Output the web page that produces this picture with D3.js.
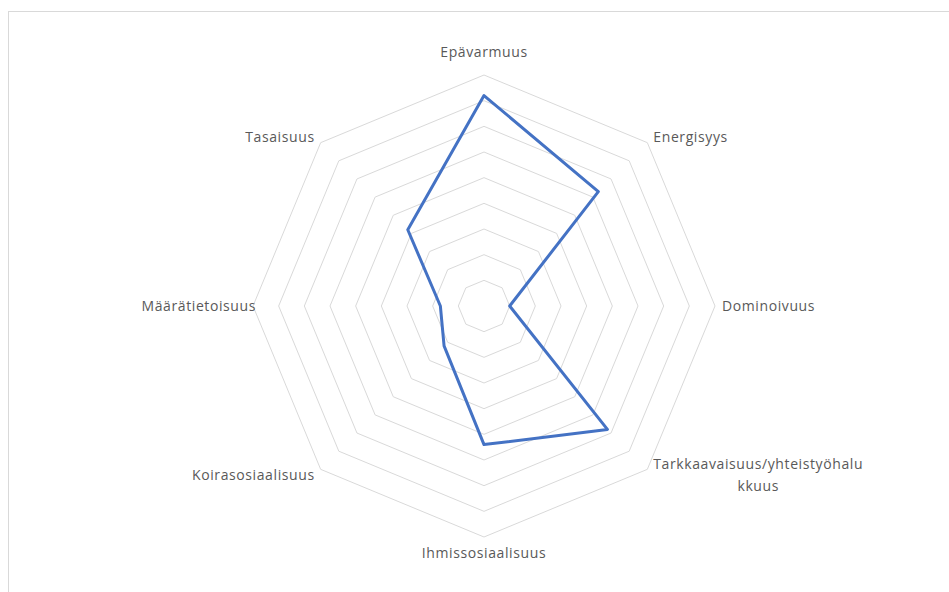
<!DOCTYPE html>
<html>
<head>
<meta charset="utf-8">
<script src="https://cdn.jsdelivr.net/npm/d3@7"></script>
<style>
  html, body { margin: 0; padding: 0; background: #ffffff; }
  svg { display: block; }
</style>
</head>
<body>
<svg id="chart" width="949" height="592"></svg>
<script>
const categories = ["Epävarmuus", "Energisyys", "Dominoivuus", "Tarkkaavaisuus/yhteistyöhalukkuus",
                    "Ihmissosiaalisuus", "Koirasosiaalisuus", "Määrätietoisuus", "Tasaisuus"];
const values = [8.2, 6.3, 1.0, 6.8, 5.4, 2.2, 1.7, 4.2];
const ringTicks = [1, 2, 3, 4, 5, 6, 7, 8, 9];
const axisMax = 9;

const svg = d3.select("#chart");
const cx = 484, cy = 306, R = 231;

// frame
svg.append("rect").attr("x", 8.5).attr("y", 11.5).attr("width", 1000).attr("height", 700)
  .attr("fill", "none").attr("stroke", "#d9d9d9").attr("stroke-width", 1);

const g = svg.append("g").attr("transform", `translate(${cx},${cy})`);

const angle = d3.scalePoint().domain(categories).range([0, 2 * Math.PI * (categories.length - 1) / categories.length]);
const r = d3.scaleLinear().domain([0, axisMax]).range([0, R]);

const pt = (cat, v) => {
  const a = angle(cat);
  return [Math.sin(a) * r(v), -Math.cos(a) * r(v)];
};

// grid rings
const ringLine = d3.line().curve(d3.curveLinearClosed);
g.selectAll("path.ring").data(ringTicks).enter().append("path")
  .attr("class", "ring")
  .attr("d", t => ringLine(categories.map(c => pt(c, t))))
  .attr("fill", "none").attr("stroke", "#d9d9d9").attr("stroke-width", 1);

// data line
g.append("path")
  .attr("d", ringLine(categories.map((c, i) => pt(c, values[i]))))
  .attr("fill", "none").attr("stroke", "#4472C4").attr("stroke-width", 3)
  .attr("stroke-linejoin", "round");

// labels
const maxChars = 28;
const lh = 22;
categories.forEach(c => {
  const a = angle(c);
  const sx = Math.round(Math.sin(a) * 1000) / 1000, sy = Math.round(-Math.cos(a) * 1000) / 1000;
  const lines = c.length > maxChars ? [c.slice(0, maxChars), c.slice(maxChars)] : [c];
  let x, y, anchor;
  if (Math.abs(sx) < 0.3) {          // top / bottom
    anchor = "middle"; x = 0;
    y = sy < 0 ? -(R + 23) : (R + 16);
  } else if (Math.abs(sy) < 0.3) {   // left / right
    anchor = sx > 0 ? "start" : "end";
    x = sx > 0 ? (R + 7) : -(R - 3);
    y = 0;
  } else {                           // diagonals
    anchor = sx > 0 ? "start" : "end";
    x = sx * (R + 8.5);
    y = sy * (R + 8.5) + (lines.length > 1 ? -lh / 2 : 0);
  }
  const text = g.append("text")
    .attr("font-family", "'Open Sans', 'Noto Sans', sans-serif")
    .attr("font-size", "14px")
    .attr("letter-spacing", "0.6px")
    .attr("fill", "#595959");
  if (lines.length > 1) {
    const t0 = text.append("tspan").attr("x", x).attr("y", y).attr("dy", "0.35em")
      .attr("text-anchor", anchor).text(lines[0]);
    const w0 = t0.node().getComputedTextLength();
    const mid = anchor === "start" ? x + w0 / 2 : x - w0 / 2;
    lines.slice(1).forEach((ln, i) => {
      text.append("tspan").attr("x", mid).attr("y", y + (i + 1) * lh).attr("dy", "0.35em")
        .attr("text-anchor", "middle").text(ln);
    });
  } else {
    text.attr("text-anchor", anchor);
    text.append("tspan").attr("x", x).attr("y", y).attr("dy", "0.35em").text(lines[0]);
  }
});
</script>
</body>
</html>
